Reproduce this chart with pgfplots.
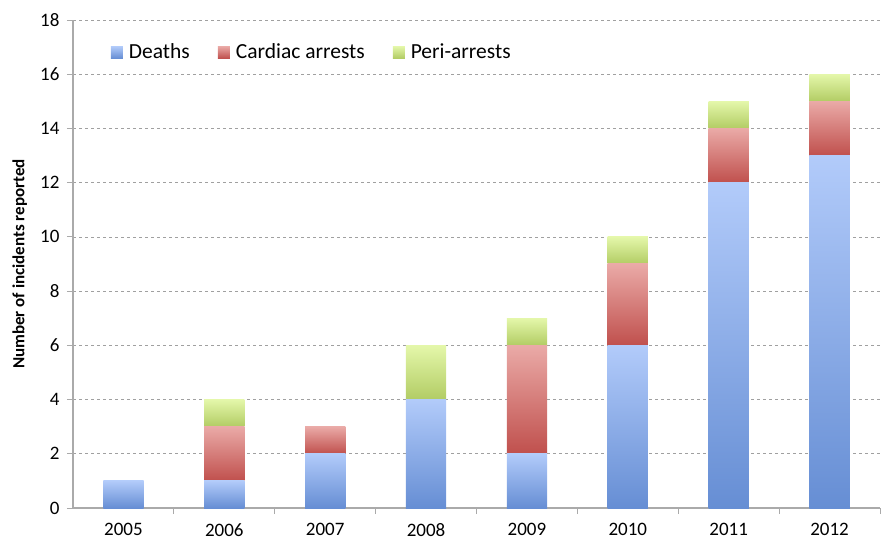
\documentclass[border=0pt]{standalone}
\usepackage{pgfplots}
\pgfplotsset{compat=1.18}
\usepackage{fontspec}
\setmainfont{Carlito}
\definecolor{gridgray}{RGB}{160,160,160}
\definecolor{axgray}{RGB}{170,170,170}
\definecolor{btop}{RGB}{178,203,250}
\definecolor{bbot}{RGB}{102,142,212}
\definecolor{rtop}{RGB}{234,170,167}
\definecolor{rbot}{RGB}{192,80,77}
\definecolor{gtop}{RGB}{228,247,170}
\definecolor{gbot}{RGB}{178,204,100}
\pgfplotsset{
  base/.style={
    at={(73pt,33pt)}, anchor=south west,
    scale only axis, width=807pt, height=488pt,
    ybar stacked, bar width=0.4,
    xmin=-0.5, xmax=7.5, ymin=0, ymax=18,
    clip=false,
  },
  hid/.style={base, hide axis},
  B/.style={draw=none, shading=axis, top color=btop, bottom color=bbot},
  R/.style={draw=none, shading=axis, top color=rtop, bottom color=rbot},
  G/.style={draw=none, shading=axis, top color=gtop, bottom color=gbot},
}
\begin{document}
\begin{tikzpicture}
\path[use as bounding box] (0,0) rectangle (883pt,541pt);
\begin{axis}[
  base,
  ytick={0,2,...,18},
  xtick={0,...,7},
  xticklabels={2005,2006,2007,2008,2009,2010,2011,2012},
  minor xtick={0.5,1.5,...,7.5},
  major x tick style={draw=none},
  minor x tick style={axgray, line width=0.8pt},
  minor tick length=6pt,
  ytick style={axgray, line width=0.8pt},
  major tick length=6pt,
  tick align=outside,
  axis lines*=left,
  axis line style={-, axgray, line width=1.2pt},
  ymajorgrids,
  grid style={gridgray, dashed, line width=0.7pt},
  tick label style={font=\fontsize{19}{21}\selectfont},
  /pgf/number format/assume math mode=true,
  xticklabel style={yshift=-6pt},
  yticklabel style={xshift=-4pt},
  ylabel={\textbf{Number of incidents reported}},
  every axis y label/.style={at={(axis description cs:-0.066,0.5)}, rotate=90, anchor=center,
    font=\fontsize{17}{19}\selectfont},
  legend style={at={(0.043,0.934)}, anchor=west, draw=none, fill=none,
    font=\fontsize{21.5}{23}\selectfont, legend columns=3,
    /tikz/every odd column/.append style={column sep=4pt},
    /tikz/every even column/.append style={column sep=26pt}},
  legend image code/.code={\shade[#1] (0pt,-6pt) rectangle (12pt,6pt);},
]
\addplot[B] coordinates {(0,1)};
\addlegendimage{R}
\addlegendimage{G}
\legend{Deaths, Cardiac arrests, Peri-arrests}
\end{axis}
\begin{axis}[hid]
\addplot[B] coordinates {(1,1)};
\addplot[R] coordinates {(1,2)};
\addplot[G] coordinates {(1,1)};
\end{axis}
\begin{axis}[hid]
\addplot[B] coordinates {(2,2)};
\addplot[R] coordinates {(2,1)};
\end{axis}
\begin{axis}[hid]
\addplot[B] coordinates {(3,4)};
\addplot[G] coordinates {(3,2)};
\end{axis}
\begin{axis}[hid]
\addplot[B] coordinates {(4,2)};
\addplot[R] coordinates {(4,4)};
\addplot[G] coordinates {(4,1)};
\end{axis}
\begin{axis}[hid]
\addplot[B] coordinates {(5,6)};
\addplot[R] coordinates {(5,3)};
\addplot[G] coordinates {(5,1)};
\end{axis}
\begin{axis}[hid]
\addplot[B] coordinates {(6,12)};
\addplot[R] coordinates {(6,2)};
\addplot[G] coordinates {(6,1)};
\end{axis}
\begin{axis}[hid]
\addplot[B] coordinates {(7,13)};
\addplot[R] coordinates {(7,2)};
\addplot[G] coordinates {(7,1)};
\end{axis}
\end{tikzpicture}
\end{document}
